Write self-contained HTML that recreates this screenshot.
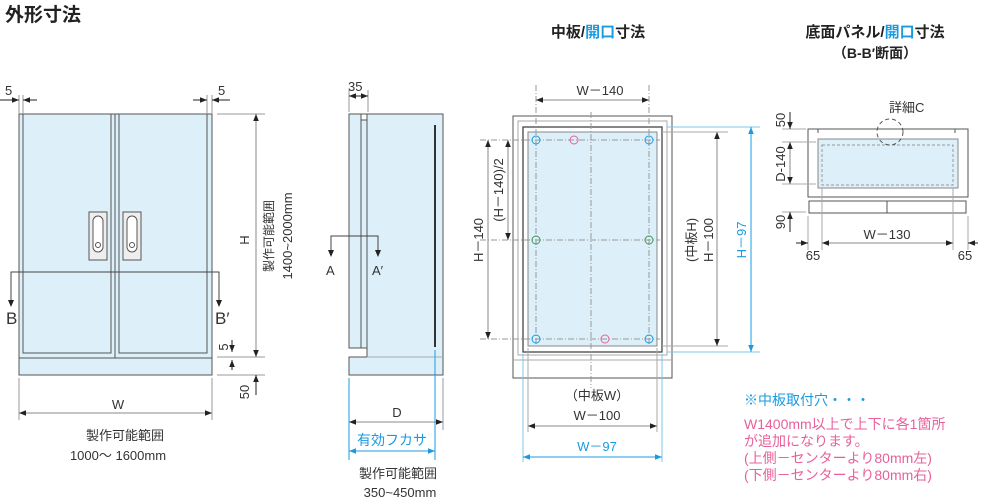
<!DOCTYPE html>
<html><head><meta charset="utf-8"><style>
html,body{margin:0;padding:0;background:#fff}
svg{display:block}
text{font-family:"Liberation Sans","Noto Sans CJK JP",sans-serif;fill:#333;font-size:13px}
.b{fill:#1a9be0}.p{fill:#e8609a}
</style></head><body>
<svg width="1000" height="504" viewBox="0 0 1000 504" xmlns="http://www.w3.org/2000/svg">
<defs>
<marker id="a" viewBox="0 0 10 10" refX="10" refY="5" markerWidth="7" markerHeight="7" orient="auto-start-reverse"><path d="M0,1L10,5L0,9z" fill="#222"/></marker>
<marker id="ab" viewBox="0 0 10 10" refX="10" refY="5" markerWidth="7" markerHeight="7" orient="auto-start-reverse"><path d="M0,1L10,5L0,9z" fill="#1a9be0"/></marker>
</defs>
<text x="5" y="21" style="font-size:19px;font-weight:bold;fill:#222">外形寸法</text>
<text x="598" y="37" text-anchor="middle" style="font-size:15px;font-weight:bold;fill:#222">中板/<tspan class="b">開口</tspan>寸法</text>
<text x="875" y="37" text-anchor="middle" style="font-size:15px;font-weight:bold;fill:#222">底面パネル/<tspan class="b">開口</tspan>寸法</text>
<text x="875" y="58" text-anchor="middle" style="font-size:14px;font-weight:bold;fill:#222">（B-B′断面）</text>

<!-- front view -->
<g stroke="#555" stroke-width="1" fill="#ddeff9">
<rect x="19" y="114" width="193" height="261"/>
<rect x="23" y="114" width="88" height="239"/>
<rect x="119" y="114" width="88" height="239"/>
<line x1="115" y1="114" x2="115" y2="358"/>
<line x1="19" y1="358" x2="212" y2="358"/>
<rect x="89" y="212" width="18" height="48" fill="#eee"/>
<rect x="123" y="212" width="18" height="48" fill="#eee"/>
<rect x="93" y="216" width="10" height="36" rx="5" fill="#fff"/>
<rect x="127" y="216" width="10" height="36" rx="5" fill="#fff"/>
<circle cx="98" cy="245" r="2.5" fill="#fff"/><circle cx="132" cy="245" r="2.5" fill="#fff"/>
</g>
<g stroke="#999" stroke-width="1" fill="none">
<line x1="19" y1="95" x2="19" y2="114"/><line x1="23" y1="95" x2="23" y2="114"/>
<line x1="207" y1="95" x2="207" y2="114"/><line x1="212" y1="95" x2="212" y2="114"/>
<line x1="217" y1="114" x2="265" y2="114"/><line x1="217" y1="357" x2="265" y2="357"/><line x1="217" y1="375" x2="265" y2="375"/>
<line x1="19" y1="378" x2="19" y2="420"/><line x1="212" y1="378" x2="212" y2="420"/>
</g>
<g stroke="#222" stroke-width="1" fill="none">
<line x1="0" y1="100" x2="19" y2="100" marker-end="url(#a)"/><line x1="37" y1="100" x2="23" y2="100" marker-end="url(#a)"/>
<line x1="193" y1="100" x2="207" y2="100" marker-end="url(#a)"/><line x1="230" y1="100" x2="212" y2="100" marker-end="url(#a)"/>
<line x1="256" y1="114" x2="256" y2="357" marker-start="url(#a)" marker-end="url(#a)" stroke="#888"/>
<line x1="232" y1="340" x2="232" y2="352" marker-end="url(#a)"/><line x1="232" y1="370" x2="232" y2="360" marker-end="url(#a)"/>
<line x1="256" y1="395" x2="256" y2="375" marker-end="url(#a)"/>
<line x1="19" y1="413" x2="212" y2="413" marker-start="url(#a)" marker-end="url(#a)" stroke="#888"/>
<polyline points="11,306 11,272 219,272 219,306" stroke="#444"/>
</g>
<path d="M8,300l3,7l3,-7z M216,300l3,7l3,-7z" fill="#222"/>
<text x="6" y="324" style="font-size:17px">B</text><text x="215" y="324" style="font-size:17px">B′</text>
<text x="5" y="95">5</text><text x="218" y="95">5</text>
<text x="118" y="409" text-anchor="middle">W</text>
<text transform="translate(249,240) rotate(-90)" text-anchor="middle">H</text>
<text transform="translate(273,236) rotate(-90)" text-anchor="middle" style="font-size:12px">製作可能範囲</text>
<text transform="translate(292,236) rotate(-90)" text-anchor="middle">1400~2000mm</text>
<text transform="translate(228,347) rotate(-90)" text-anchor="middle">5</text>
<text transform="translate(249,392) rotate(-90)" text-anchor="middle">50</text>
<text x="125" y="440" text-anchor="middle">製作可能範囲</text>
<text x="118" y="460" text-anchor="middle">1000～ 1600mm</text>

<!-- side view -->
<g stroke="#555" stroke-width="1" fill="#ddeff9">
<path d="M349,114H443V375H349V357H367V348H361V120H367V114"/>
<path d="M349,114H361V348H349Z"/>
<line x1="367" y1="114" x2="367" y2="348"/>
<line x1="367" y1="357" x2="443" y2="357" stroke="#aaa"/>
</g>
<line x1="435" y1="125" x2="435" y2="347" stroke="#333" stroke-width="2"/>
<g stroke="#999" fill="none">
<line x1="349" y1="90" x2="349" y2="112"/><line x1="368" y1="90" x2="368" y2="112"/>
<line x1="349" y1="378" x2="349" y2="460" stroke="#1a9be0"/><line x1="443" y1="378" x2="443" y2="430"/>
<line x1="435" y1="350" x2="435" y2="460" stroke="#1a9be0"/>
</g>
<g stroke="#222" fill="none">
<line x1="349" y1="96" x2="368" y2="96" marker-start="url(#a)" marker-end="url(#a)"/>
<polyline points="331,254 331,236 378,236 378,254" stroke="#444"/>
<line x1="349" y1="422" x2="443" y2="422" marker-start="url(#a)" marker-end="url(#a)" stroke="#888"/>
<line x1="349" y1="451" x2="435" y2="451" marker-start="url(#ab)" marker-end="url(#ab)" stroke="#1a9be0"/>
</g>
<path d="M328,250l3,7l3,-7z M375,250l3,7l3,-7z" fill="#222"/>
<text x="348" y="91">35</text>
<text x="326" y="275">A</text><text x="372" y="275">A′</text>
<text x="397" y="417" text-anchor="middle">D</text>
<text x="392" y="445" text-anchor="middle" class="b" style="font-size:14px">有効フカサ</text>
<text x="398" y="478" text-anchor="middle">製作可能範囲</text>
<text x="400" y="497" text-anchor="middle">350~450mm</text>

<!-- middle -->
<g stroke="#555" fill="none">
<rect x="513" y="116" width="159" height="262" fill="#fff"/>
<rect x="518" y="121" width="149" height="234" stroke="#aaa"/>
<rect x="523" y="127" width="139" height="225" stroke="#444" stroke-width="1.3"/>
<rect x="528" y="132" width="129" height="214" fill="#ddeff9" stroke="#888"/>
<line x1="513" y1="360" x2="672" y2="360" stroke="#aaa"/>
</g>
<g stroke="#999" stroke-dasharray="6,2,1,2" fill="none">
<line x1="591" y1="112" x2="591" y2="388"/>
<line x1="480" y1="240" x2="660" y2="240"/>
<line x1="480" y1="140" x2="660" y2="140"/><line x1="480" y1="339" x2="660" y2="339"/>
<line x1="536" y1="85" x2="536" y2="345"/><line x1="649" y1="85" x2="649" y2="345"/>
</g>
<g fill="none" stroke-width="1">
<circle cx="536" cy="140" r="4" stroke="#1a9be0"/><circle cx="649" cy="140" r="4" stroke="#1a9be0"/>
<circle cx="536" cy="339" r="4" stroke="#1a9be0"/><circle cx="649" cy="339" r="4" stroke="#1a9be0"/>
<circle cx="536" cy="240" r="4" stroke="#3a9a5a"/><circle cx="649" cy="240" r="4" stroke="#3a9a5a"/>
<circle cx="574" cy="140" r="4" stroke="#e8609a"/><circle cx="605" cy="339" r="4" stroke="#e8609a"/>
</g>
<g stroke="#aaa" fill="none">
<line x1="662" y1="132" x2="728" y2="132"/><line x1="662" y1="346" x2="728" y2="346"/>
<line x1="667" y1="127" x2="760" y2="127" stroke="#7cc4ee"/><line x1="667" y1="352" x2="760" y2="352" stroke="#7cc4ee"/>
<line x1="528" y1="348" x2="528" y2="432"/><line x1="657" y1="348" x2="657" y2="432"/>
<line x1="523" y1="354" x2="523" y2="462" stroke="#7cc4ee"/><line x1="662" y1="354" x2="662" y2="462" stroke="#7cc4ee"/>
</g>
<g stroke="#222" fill="none">
<line x1="536" y1="100" x2="649" y2="100" marker-start="url(#a)" marker-end="url(#a)" stroke="#888"/>
<line x1="488" y1="140" x2="488" y2="339" marker-start="url(#a)" marker-end="url(#a)" stroke="#888"/>
<line x1="508" y1="140" x2="508" y2="240" marker-start="url(#a)" marker-end="url(#a)" stroke="#888"/>
<line x1="717" y1="132" x2="717" y2="346" marker-start="url(#a)" marker-end="url(#a)" stroke="#888"/>
<line x1="751" y1="127" x2="751" y2="352" marker-start="url(#ab)" marker-end="url(#ab)" stroke="#1a9be0"/>
<line x1="528" y1="426" x2="657" y2="426" marker-start="url(#a)" marker-end="url(#a)" stroke="#888"/>
<line x1="523" y1="457" x2="662" y2="457" marker-start="url(#ab)" marker-end="url(#ab)" stroke="#1a9be0"/>
</g>
<text x="600" y="95" text-anchor="middle">W－140</text>
<text transform="translate(483,240) rotate(-90)" text-anchor="middle">H－140</text>
<text transform="translate(503,190) rotate(-90)" text-anchor="middle">(H－140)/2</text>
<text transform="translate(696,240) rotate(-90)" text-anchor="middle">(中板H)</text>
<text transform="translate(713,240) rotate(-90)" text-anchor="middle">H－100</text>
<text transform="translate(746,240) rotate(-90)" text-anchor="middle" class="b">H－97</text>
<text x="597" y="400" text-anchor="middle">（中板W）</text>
<text x="597" y="420" text-anchor="middle">W－100</text>
<text x="597" y="451" text-anchor="middle" class="b">W－97</text>

<!-- bottom panel -->
<g stroke="#555" fill="#fff">
<rect x="808" y="129" width="160" height="68"/>
<rect x="809" y="201" width="157" height="12"/>
<line x1="887" y1="201" x2="887" y2="213"/>
<rect x="818" y="139" width="140" height="49" fill="#ddeff9" stroke="#888"/>
<rect x="822" y="145" width="131" height="40" fill="none" stroke="#999" stroke-dasharray="3,2"/>
<line x1="818" y1="129" x2="818" y2="133"/><line x1="955" y1="129" x2="955" y2="133"/>
</g>
<circle cx="890" cy="132" r="13" fill="none" stroke="#555" stroke-dasharray="4,3"/>
<g stroke="#aaa" fill="none">
<line x1="782" y1="129" x2="806" y2="129"/><line x1="782" y1="142" x2="816" y2="142"/>
<line x1="782" y1="184" x2="816" y2="184"/><line x1="782" y1="212" x2="806" y2="212"/>
<line x1="808" y1="216" x2="808" y2="250"/><line x1="968" y1="216" x2="968" y2="250"/>
<line x1="822" y1="188" x2="822" y2="250"/><line x1="953" y1="188" x2="953" y2="250"/>
</g>
<g stroke="#222" fill="none">
<line x1="790" y1="112" x2="790" y2="129" marker-end="url(#a)"/>
<line x1="790" y1="142" x2="790" y2="184" marker-start="url(#a)" marker-end="url(#a)" stroke="#888"/>
<line x1="790" y1="232" x2="790" y2="212" marker-end="url(#a)"/>
<line x1="822" y1="243" x2="953" y2="243" marker-start="url(#a)" marker-end="url(#a)" stroke="#888"/>
<line x1="796" y1="243" x2="808" y2="243" marker-end="url(#a)"/><line x1="978" y1="243" x2="968" y2="243" marker-end="url(#a)"/>
</g>
<text x="889" y="112">詳細C</text>
<text transform="translate(785,120) rotate(-90)" text-anchor="middle">50</text>
<text transform="translate(785,164) rotate(-90)" text-anchor="middle">D-140</text>
<text transform="translate(785,222) rotate(-90)" text-anchor="middle">90</text>
<text x="887" y="239" text-anchor="middle">W－130</text>
<text x="813" y="260" text-anchor="middle">65</text><text x="965" y="260" text-anchor="middle">65</text>

<!-- notes -->
<text x="744" y="405" class="b" style="font-size:14px">※中板取付穴・・・</text>
<text x="744" y="429" class="p" style="font-size:14px">W1400mm以上で上下に各1箇所</text>
<text x="744" y="446" class="p" style="font-size:14px">が追加になります。</text>
<text x="744" y="463" class="p" style="font-size:14px">(上側－センターより80mm左)</text>
<text x="744" y="480" class="p" style="font-size:14px">(下側－センターより80mm右)</text>
</svg>
</body></html>
